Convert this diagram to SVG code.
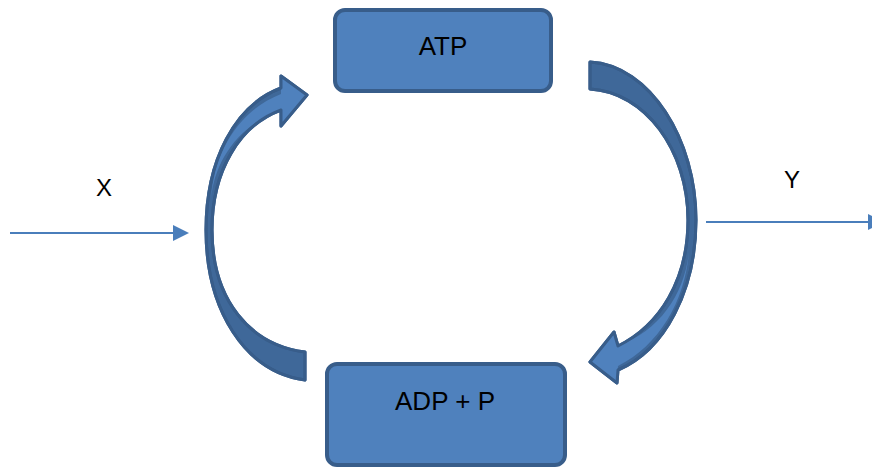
<svg xmlns="http://www.w3.org/2000/svg" width="872" height="468" viewBox="0 0 872 468">
<defs>
<style>
.box{fill:#4f81bd;stroke:#385d8a;stroke-width:4}
.lbl{font-family:"Liberation Sans",Arial,sans-serif;font-size:26px;fill:#000;text-anchor:middle}
.side{font-family:"Liberation Sans",Arial,sans-serif;font-size:24px;fill:#000;text-anchor:middle}
.dark{fill:#3f6899;stroke:#385d8a;stroke-width:3;stroke-linejoin:round}
.light{fill:#4f81bd;stroke:none}
.edge{fill:none;stroke:#385d8a;stroke-width:3;stroke-linejoin:round}
.flow{stroke:#4a7ebb;stroke-width:2;fill:none}
.head{fill:#4a7ebb}
</style>
</defs>
<g id="atp">
<rect class="box" x="335" y="10" width="216" height="81" rx="10"/>
<text class="lbl" x="443" y="55">ATP</text>
</g>
<g id="adp">
<rect class="box" x="327" y="364" width="238" height="101" rx="10"/>
<text class="lbl" x="445" y="410">ADP + P</text>
</g>
<g id="x-label"><text class="side" x="104" y="196">X</text></g>
<g id="y-label"><text class="side" x="792" y="188">Y</text></g>
<g id="connectors">
<g id="left-arrow">
<path class="dark" d="M305,352 C250,345 212,300 212,230 C212,170 240,125 281,110 L281,126 L307,95 L281,76 L281,88 C235,105 206,160 206,230 C206,310 245,372 305,380 Z"/>
<path class="light" d="M211,200 C214,160 240,124 281,110 L281,126 L307,95 L281,76 L281,94 C240,110 214,150 211,200 Z"/>
<path class="edge" d="M305,352 C250,345 212,300 212,230 C212,170 240,125 281,110 L281,126 L307,95 L281,76 L281,88 C235,105 206,160 206,230 C206,310 245,372 305,380 Z"/>
</g>
<g id="right-arrow">
<path class="dark" d="M590,62 C650,65 696,140 696,220 C696,290 665,350 618,370 L617,383 L590,362 L614,332 L618,346 C660,325 688,280 688,220 C688,150 645,92 590,89 Z"/>
<path class="light" d="M689,252 C684,295 660,330 618,346 L614,332 L590,362 L617,383 L618,366 C660,345 685,300 689,252 Z"/>
<path class="edge" d="M590,62 C650,65 696,140 696,220 C696,290 665,350 618,370 L617,383 L590,362 L614,332 L618,346 C660,325 688,280 688,220 C688,150 645,92 590,89 Z"/>
</g>
<g id="x-arrow">
<line class="flow" x1="10" y1="233" x2="175" y2="233"/>
<polygon class="head" points="173,225 189,233 173,241"/>
</g>
<g id="y-arrow">
<line class="flow" x1="706" y1="222" x2="870" y2="222"/>
<polygon class="head" points="868,214 884,222 868,230"/>
</g>
</g>
</svg>
